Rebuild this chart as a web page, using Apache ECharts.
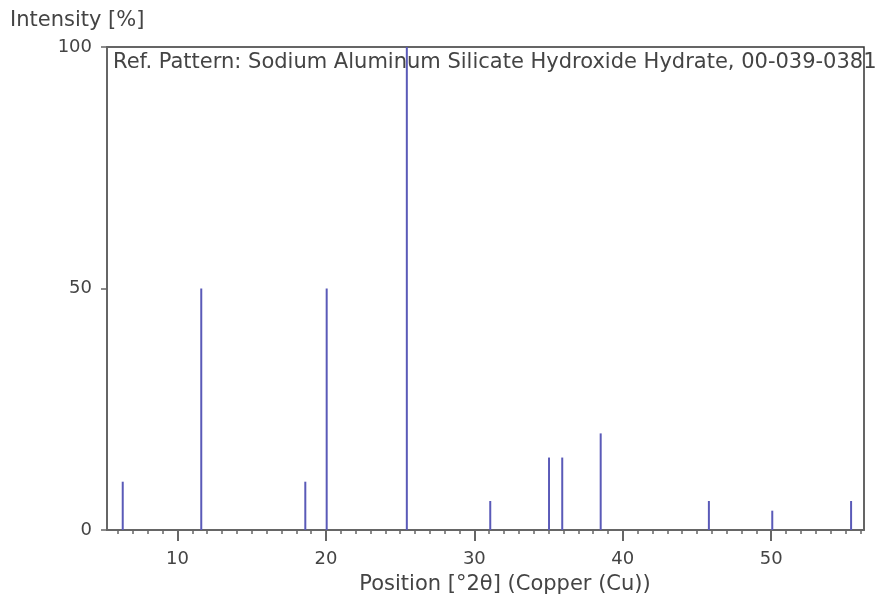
<!DOCTYPE html>
<html>
<head>
<meta charset="utf-8">
<script src="https://cdn.jsdelivr.net/npm/echarts@6/dist/echarts.min.js"></script>
<style>
  html, body { margin: 0; padding: 0; background: #fff; }
  #chart { width: 890px; height: 603px; }
</style>
</head>
<body>
<div id="chart"></div>
<script>
// reference pattern peaks (position in 2theta, relative intensity %)
const positions = [6.31, 11.6, 18.61, 20.05, 25.45, 31.07, 35.03, 35.92, 38.51, 45.8, 50.07, 55.38]
const intensities = [10, 50, 10, 50, 100, 6, 15, 15, 20, 6, 4, 6]

const xMajorTicks = [10, 20, 30, 40, 50]
const xMinorTicks = [6, 7, 8, 9, 11, 12, 13, 14, 15, 16, 17, 18, 19, 21, 22, 23, 24, 25, 26, 27, 28, 29,
  31, 32, 33, 34, 35, 36, 37, 38, 39, 41, 42, 43, 44, 45, 46, 47, 48, 49, 51, 52, 53, 54, 55, 56]

const titleText = 'Ref. Pattern: Sodium Aluminum Silicate Hydroxide Hydrate, 00-039-0381'
const yName = 'Intensity [%]'
const xName = 'Position [°2θ] (Copper (Cu))'

const font = 'DejaVu Sans'
const textColor = '#444'

const chart = echarts.init(document.getElementById('chart'))
chart.setOption({
  animation: false,
  grid: {
    left: 107, right: 26, top: 47, bottom: 73,
    show: true, borderColor: '#333', borderWidth: 1.5
  },
  xAxis: [
    {
      type: 'value', min: 5.25, max: 56.25,
      axisLine: { lineStyle: { color: '#666', width: 2 } },
      axisTick: { customValues: xMajorTicks, length: 11, lineStyle: { color: '#666', width: 2 } },
      axisLabel: { customValues: xMajorTicks, margin: 20, color: textColor, fontFamily: font, fontSize: 18 },
      splitLine: { show: false }
    },
    {
      type: 'value', min: 5.25, max: 56.25, position: 'bottom',
      axisLine: { show: false },
      axisTick: { customValues: xMinorTicks, length: 4, lineStyle: { color: '#666', width: 1.5 } },
      axisLabel: { show: false },
      splitLine: { show: false }
    }
  ],
  yAxis: {
    type: 'value', min: 0, max: 100, interval: 50,
    axisLine: { show: true, lineStyle: { color: '#666', width: 2 } },
    axisTick: { show: true, length: 6, lineStyle: { color: '#666', width: 1.5 } },
    axisLabel: { margin: 15, color: textColor, fontFamily: font, fontSize: 18 },
    splitLine: { show: false }
  },
  graphic: [
    { type: 'text', x: 10, y: 21, style: { text: yName, fill: textColor, fontFamily: font, fontSize: 21, verticalAlign: 'middle' } },
    { type: 'text', x: 113, y: 63, z: 10, style: { text: titleText, fill: textColor, fontFamily: font, fontSize: 21, verticalAlign: 'middle' } },
    { type: 'text', x: 505, y: 585, style: { text: xName, fill: textColor, fontFamily: font, fontSize: 21, align: 'center', verticalAlign: 'middle' } }
  ],
  series: [{
    type: 'bar',
    xAxisIndex: 0,
    barWidth: 2,
    itemStyle: { color: '#5a5ab8' },
    data: positions.map((p, i) => [p, intensities[i]])
  }]
})
</script>
</body>
</html>
